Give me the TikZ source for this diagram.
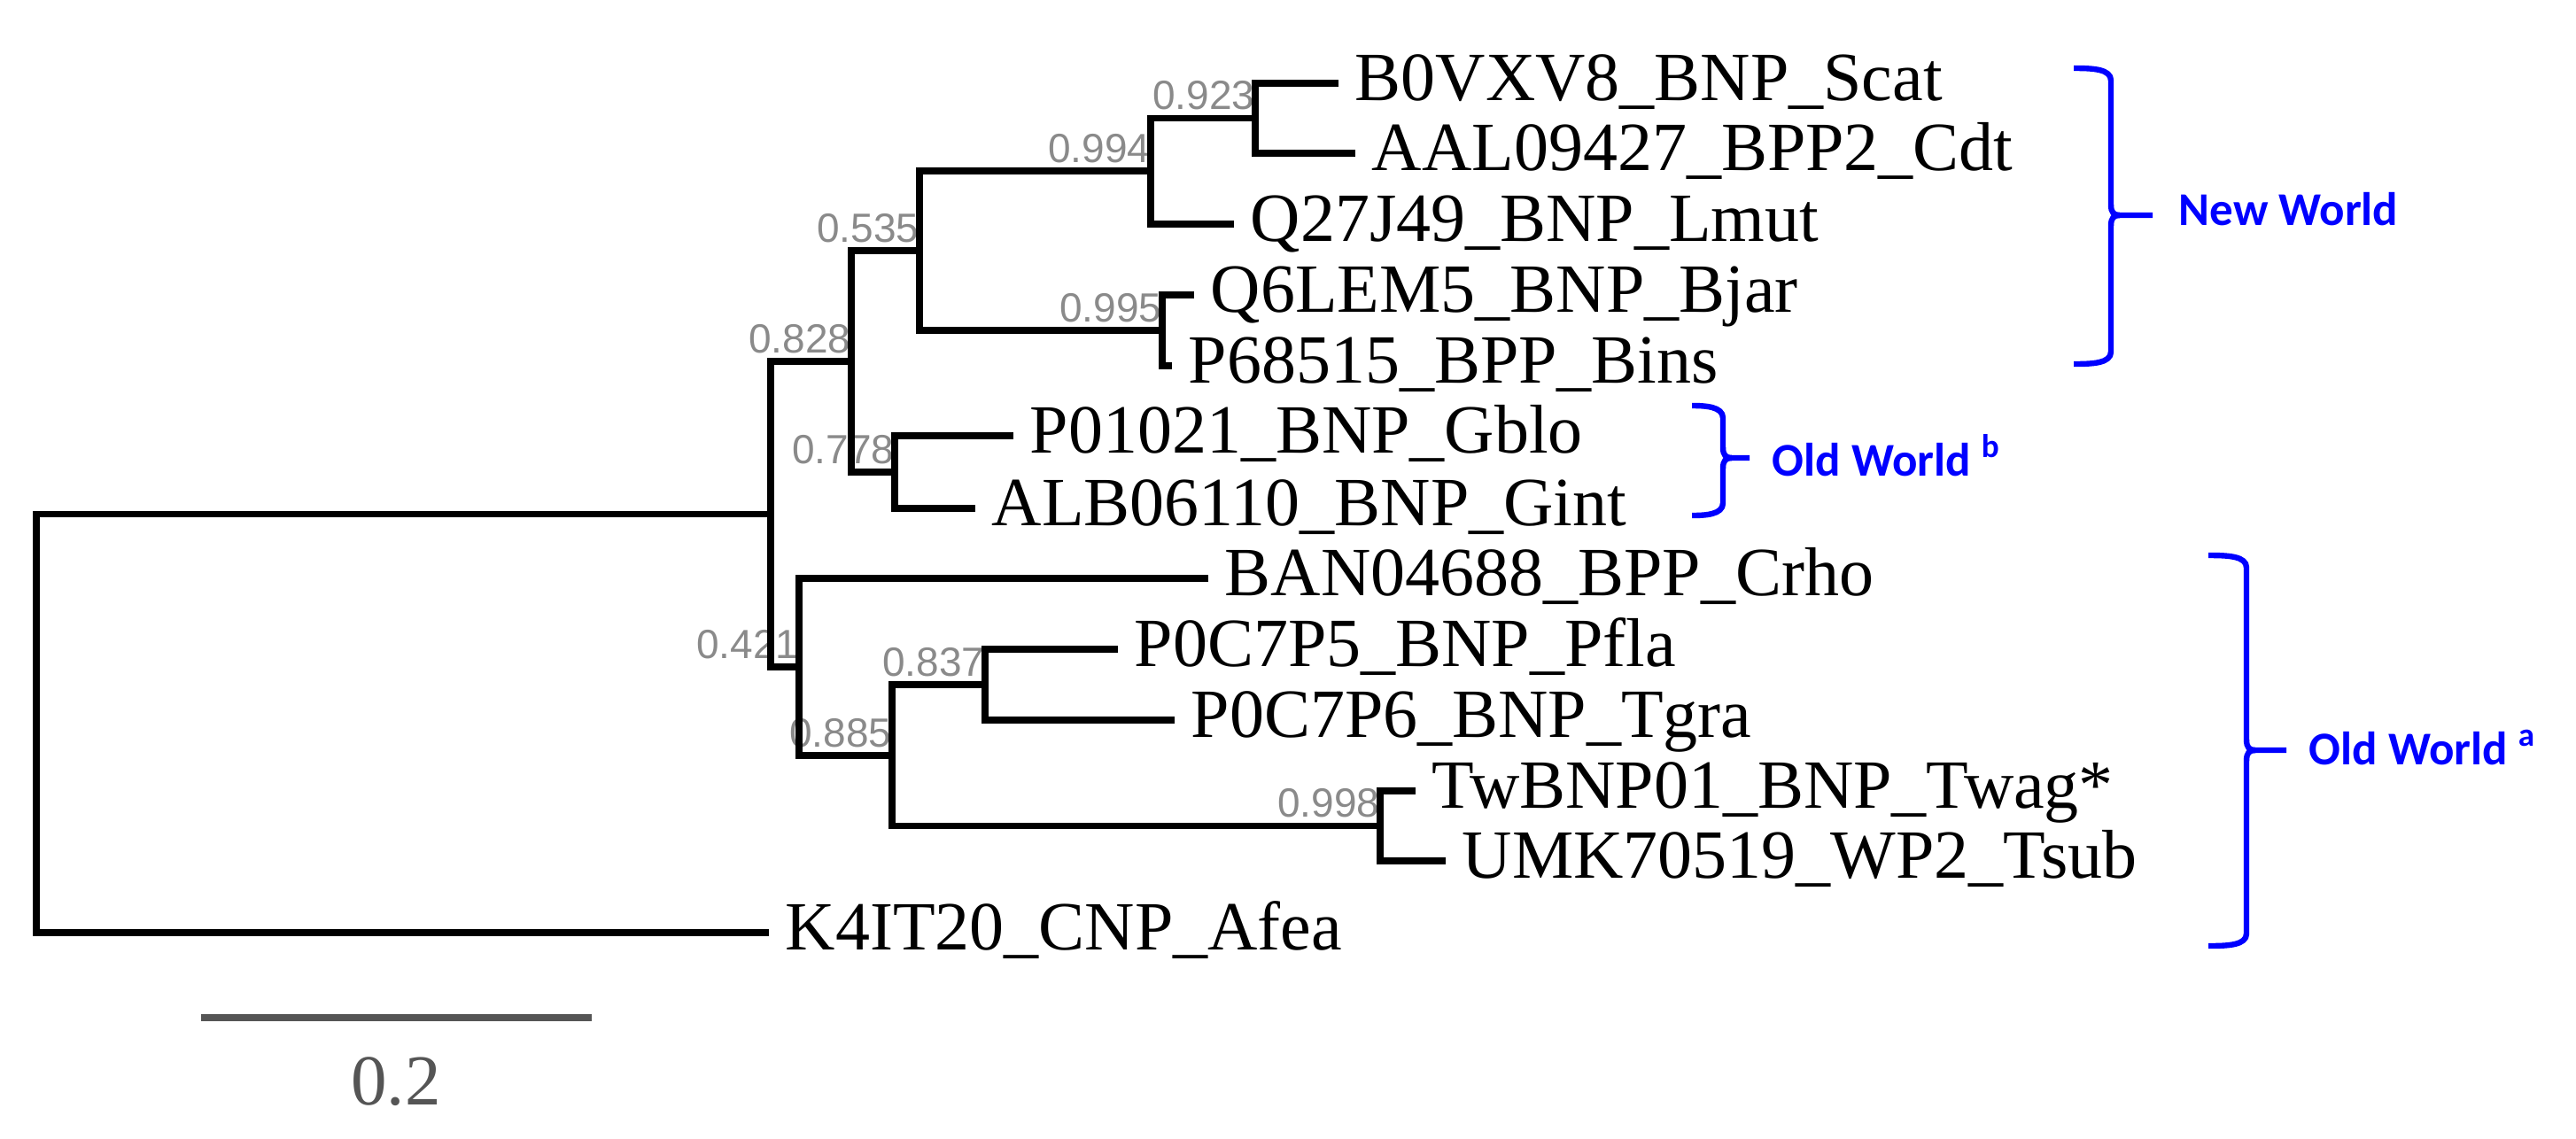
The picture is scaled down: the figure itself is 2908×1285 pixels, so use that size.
\documentclass[tikz,border=0pt]{standalone}
\usepackage{fontspec}
\setmainfont{Liberation Serif}
\newfontfamily\bootfont{Liberation Sans}
\newfontfamily\cladefont{Carlito}
\usetikzlibrary{calc}
\definecolor{bootgray}{RGB}{138,138,138}
\definecolor{bargray}{RGB}{85,85,85}
\definecolor{cladeblue}{RGB}{0,0,255}
\tikzset{
  br/.style={line width=1.9pt, line join=miter, black},
  tiplabel/.style={anchor=base west, inner sep=0pt, font=\fontsize{19.5pt}{23pt}\selectfont},
  boot/.style={anchor=base east, inner sep=0pt, text=bootgray, font=\bootfont\fontsize{11.5pt}{13pt}\selectfont},
  brk/.style={line width=1.6pt, cladeblue, line cap=butt, line join=round},
  clade/.style={anchor=base west, inner sep=0pt, text=cladeblue, font=\cladefont\bfseries\fontsize{13.25pt}{15pt}\selectfont},
  scalebar/.style={line width=2pt, bargray},
  scaletext/.style={anchor=base, inner sep=0pt, text=bargray, font=\fontsize{20.25pt}{24pt}\selectfont}
}
\newcommand\cbrace[6]{%
  \draw[brk] (#1,#4) .. controls (#2-20,#4) and (#2,#4+1) .. (#2,#4+14) -- (#2,#5-12)
     .. controls (#2,#5-3) and (#2+3,#5) .. (#2+10,#5) -- (#3,#5);
  \draw[brk] (#1,#6) .. controls (#2-20,#6) and (#2,#6-1) .. (#2,#6-14) -- (#2,#5+12)
     .. controls (#2,#5+3) and (#2+3,#5) .. (#2+10,#5);
}
\begin{document}
\begin{tikzpicture}[x=0.25pt,y=-0.25pt]
\useasboundingbox (0,0) rectangle (2908,1285);
% tips
\coordinate (tB0)  at (1511,94);
\coordinate (tAAL) at (1530,173);
\coordinate (tQ27) at (1393,253);
\coordinate (tQ6)  at (1348,333);
\coordinate (tP68) at (1323,413);
\coordinate (tP01) at (1144,492);
\coordinate (tALB) at (1101,574);
\coordinate (tBAN) at (1364,653);
\coordinate (tP5)  at (1262,733);
\coordinate (tP6)  at (1326,813);
\coordinate (tTw)  at (1598,893);
\coordinate (tUMK) at (1632,972);
\coordinate (tK4)  at (868,1053);
% internal nodes
\coordinate (n923) at (1417,133.5);
\coordinate (n994) at (1299,193);
\coordinate (n995) at (1312,373);
\coordinate (n535) at (1038,283);
\coordinate (n778) at (1010,533);
\coordinate (n828) at (961,408);
\coordinate (n837) at (1112,773);
\coordinate (n998) at (1558,932.5);
\coordinate (n885) at (1007,853);
\coordinate (n421) at (902,753);
\coordinate (nA)   at (870,580.5);
\coordinate (root) at (41,816);
% bootstrap labels
\node[boot] (b923) at ([yshift=2.5pt]n923) {0.923};
\node[boot] (b994) at ([yshift=2.5pt]n994) {0.994};
\node[boot] (b995) at ([yshift=2.5pt]n995) {0.995};
\node[boot] (b535) at ([yshift=2.5pt]n535) {0.535};
\node[boot] (b778) at ([yshift=2.5pt]n778) {0.778};
\node[boot] (b828) at ([yshift=2.5pt]n828) {0.828};
\node[boot] (b837) at ([yshift=2.5pt]n837) {0.837};
\node[boot] (b998) at ([yshift=2.5pt]n998) {0.998};
\node[boot] (b885) at ([yshift=2.5pt]n885) {0.885};
\node[boot] (b421) at ([yshift=2.5pt]n421) {0.421};
% branches
\draw[br] (tB0) -| (n923) |- (tAAL);
\draw[br] (n923) -| (n994) |- (tQ27);
\draw[br] (tQ6) -| (n995) |- (tP68);
\draw[br] (n994) -| (n535) |- (n995);
\draw[br] (tP01) -| (n778) |- (tALB);
\draw[br] (n535) -| (n828) |- (n778);
\draw[br] (tP5) -| (n837) |- (tP6);
\draw[br] (tTw) -| (n998) |- (tUMK);
\draw[br] (n837) -| (n885) |- (n998);
\draw[br] (tBAN) -| (n421) |- (n885);
\draw[br] (n828) -| (nA) |- (n421);
\draw[br] (nA) -| (root) |- (tK4);
% tip labels
\node[tiplabel] (lB0)  at ([xshift=4.5pt,yshift=-4.75pt]tB0)  {B0VXV8\_BNP\_Scat};
\node[tiplabel] (lAAL) at ([xshift=4.5pt,yshift=-4.75pt]tAAL) {AAL09427\_BPP2\_Cdt};
\node[tiplabel] (lQ27) at ([xshift=4.5pt,yshift=-4.75pt]tQ27) {Q27J49\_BNP\_Lmut};
\node[tiplabel] (lQ6)  at ([xshift=4.5pt,yshift=-4.75pt]tQ6)  {Q6LEM5\_BNP\_Bjar};
\node[tiplabel] (lP68) at ([xshift=4.5pt,yshift=-4.75pt]tP68) {P68515\_BPP\_Bins};
\node[tiplabel] (lP01) at ([xshift=4.5pt,yshift=-4.75pt]tP01) {P01021\_BNP\_Gblo};
\node[tiplabel] (lALB) at ([xshift=4.5pt,yshift=-4.75pt]tALB) {ALB06110\_BNP\_Gint};
\node[tiplabel] (lBAN) at ([xshift=4.5pt,yshift=-4.75pt]tBAN) {BAN04688\_BPP\_Crho};
\node[tiplabel] (lP5)  at ([xshift=4.5pt,yshift=-4.75pt]tP5)  {P0C7P5\_BNP\_Pfla};
\node[tiplabel] (lP6)  at ([xshift=4.5pt,yshift=-4.75pt]tP6)  {P0C7P6\_BNP\_Tgra};
\node[tiplabel] (lTw)  at ([xshift=4.5pt,yshift=-4.75pt]tTw)  {TwBNP01\_BNP\_Twag*};
\node[tiplabel] (lUMK) at ([xshift=4.5pt,yshift=-4.75pt]tUMK) {UMK70519\_WP2\_Tsub};
\node[tiplabel] (lK4)  at ([xshift=4.5pt,yshift=-4.75pt]tK4)  {K4IT20\_CNP\_Afea};
% clade brackets
\cbrace{2341}{2383}{2430}{77}{243}{411}
\cbrace{1910}{1945}{1975}{458}{517}{582}
\cbrace{2493}{2536}{2581}{627}{847}{1068}
\node[clade] (cNW) at (2459,254) {New World};
\node[clade] (cOWb) at (2000,537) {Old World \textsuperscript{b}};
\node[clade] (cOWa) at (2606,863) {Old World \textsuperscript{a}};
% scale bar
\coordinate (sbL) at (227,1149);
\coordinate (sbR) at (668,1149);
\draw[scalebar] (sbL) -- (sbR);
\node[scaletext] (sbT) at (447,1247) {0.2};
\end{tikzpicture}
\end{document}
